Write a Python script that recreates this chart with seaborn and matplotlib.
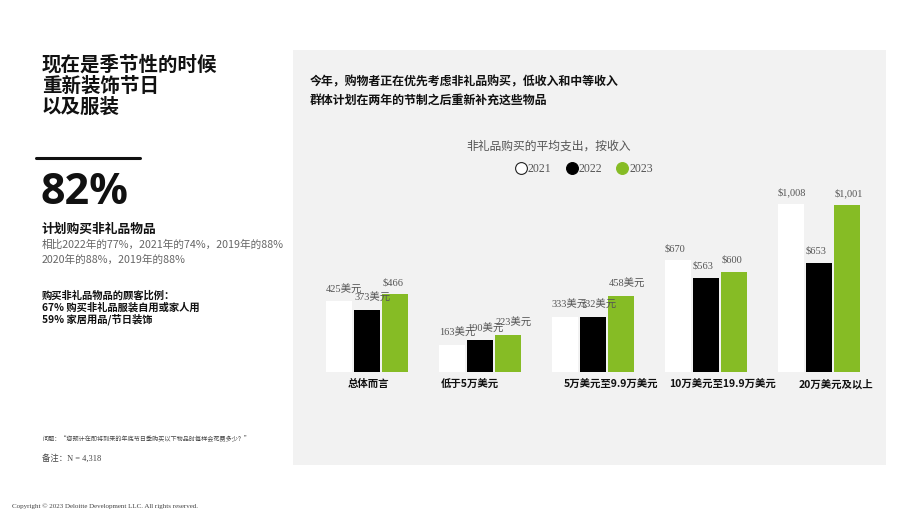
import matplotlib
matplotlib.use("Agg")
import matplotlib.pyplot as plt
import seaborn as sns
import pandas as pd
from matplotlib.patches import Rectangle
from matplotlib.lines import Line2D
from matplotlib.transforms import ScaledTranslation

# ---------------- data ----------------
categories = ['总体而言', '低于5万美元', '5万美元至9.9万美元', '10万美元至19.9万美元', '20万美元及以上']
years = ['2021', '2022', '2023']
v2021 = [425, 163, 333, 670, 1008]
v2022 = [373, 190, 332, 563, 653]
v2023 = [466, 223, 458, 600, 1001]
lab2021 = ['425美元', '163美元', '333美元', '$670', '$1,008']
lab2022 = ['373美元', '190美元', '332美元', '$563', '$653']
lab2023 = ['$466', '223美元', '458美元', '$600', '$1,001']
colors = ['#ffffff', '#000000', '#86bc25']

sns.set_theme(style="white")
plt.rcParams['font.family'] = ['Noto Sans CJK SC', 'DejaVu Sans']
SERIF = ['Liberation Serif', 'Noto Sans CJK SC']

df = pd.DataFrame({
    'category': categories * 3,
    'year': [y for y in years for _ in categories],
    'value': v2021 + v2022 + v2023,
})

W, H = 920, 518
fig = plt.figure(figsize=(W / 100, H / 100), dpi=100)
fig.patch.set_facecolor('white')

def fx(px):
    return px / W

def fy(py):
    return 1 - py / H

# gray panel
fig.patches.append(Rectangle((fx(293), fy(465)), fx(593), 415 / H,
                             transform=fig.transFigure, facecolor='#f2f2f2',
                             edgecolor='none', zorder=-10))

# chart axes
ax_left, ax_right = 310.5, 875.5
base, top = 372, 372 - 183.3
ax = fig.add_axes([fx(ax_left), fy(base), (ax_right - ax_left) / W, (base - top) / H])
ax.set_zorder(5)
ax.set_facecolor('none')
sns.barplot(data=df, x='category', y='value', hue='year', hue_order=years,
            palette=colors, width=0.75, gap=0.08, linewidth=0, saturation=1,
            legend=False, ax=ax)
ax.set_xlim(-0.5, len(categories) - 0.5)
ax.set_ylim(0, 1100)
ax.set_xlabel('')
ax.set_ylabel('')
ax.set_yticks([])
for s in ax.spines.values():
    s.set_visible(False)
ax.tick_params(axis='x', length=0, pad=5)
for lbl in ax.get_xticklabels():
    lbl.set_fontweight('bold')
    lbl.set_fontsize(7.5)
    lbl.set_color('#111111')
offsets_px = [1, -10, 18, 17, 17]
for lbl, dx in zip(ax.get_xticklabels(), offsets_px):
    lbl.set_transform(lbl.get_transform() + ScaledTranslation(dx / 100, 0, fig.dpi_scale_trans))

# value labels
for cont, labs in zip(ax.containers, [lab2021, lab2022, lab2023]):
    for bar, t in zip(cont, labs):
        ax.annotate(t, (bar.get_x(), bar.get_height()), xytext=(0, 8.5),
                    textcoords='offset points', ha='left', va='center',
                    fontsize=7.5, color='#555555', family=SERIF, clip_on=False)

# legend
handles = [Line2D([], [], marker='o', linestyle='none', markersize=8.5,
                  markerfacecolor=c, markeredgecolor='#222222' if c == '#ffffff' else c,
                  markeredgewidth=0.8) for c in colors]
leg = fig.legend(handles, years, loc='center', bbox_to_anchor=(fx(584), fy(169)),
                 ncol=3, frameon=False, handletextpad=0.1, columnspacing=1.2,
                 handlelength=1.0, prop={'family': SERIF, 'size': 8.5})
for t in leg.get_texts():
    t.set_color('#555555')

# chart subtitle
fig.text(fx(549), fy(147), '非礼品购买的平均支出，按收入', ha='center', va='center',
         fontsize=8.5, color='#555555', family=SERIF)

# panel title
fig.text(fx(310), fy(82), '今年，购物者正在优先考虑非礼品购买，低收入和中等收入',
         fontsize=8.6, fontweight='bold', color='#111111', va='center')
fig.text(fx(310), fy(100), '群体计划在两年的节制之后重新补充这些物品',
         fontsize=8.6, fontweight='bold', color='#111111', va='center')

# left column
for i, line in enumerate(['现在是季节性的时候', '重新装饰节日', '以及服装']):
    fig.text(fx(42), fy(65 + i * 21), line, fontsize=14, fontweight='bold',
             color='#111111', va='center')
fig.add_artist(Line2D([fx(36), fx(140)], [fy(158), fy(158)], color='#111111',
                      linewidth=2.2, transform=fig.transFigure))
fig.text(fx(41), fy(193), '82%', fontsize=31, fontweight='bold', color='#111111',
         va='center', family=['Open Sans', 'DejaVu Sans'])
fig.text(fx(42), fy(229), '计划购买非礼品物品', fontsize=9.2, fontweight='bold',
         color='#111111', va='center')
fig.text(fx(42), fy(245), '相比2022年的77%，2021年的74%，2019年的88%', fontsize=7.7,
         color='#666666', va='center')
fig.text(fx(42), fy(260), '2020年的88%，2019年的88%', fontsize=7.7,
         color='#666666', va='center')
for i, line in enumerate(['购买非礼品物品的顾客比例：', '67% 购买非礼品服装自用或家人用',
                          '59% 家居用品/节日装饰']):
    fig.text(fx(42), fy(296 + i * 11.5), line, fontsize=7.4, fontweight='bold',
             color='#111111', va='center')

fig.text(fx(42), fy(438), '问题：“您预计在即将到来的年底节日季购买以下物品时每样会花费多少？”',
         fontsize=4.4, color='#444444', va='center')
fig.text(fx(42), fy(458), '备注：N = 4,318', fontsize=6, color='#444444', va='center',
         family=SERIF)
fig.text(fx(12), fy(506), 'Copyright © 2023 Deloitte Development LLC. All rights reserved.',
         fontsize=5, color='#444444', va='center', family=SERIF)

fig.savefig('out.png', dpi=100, facecolor='white')
